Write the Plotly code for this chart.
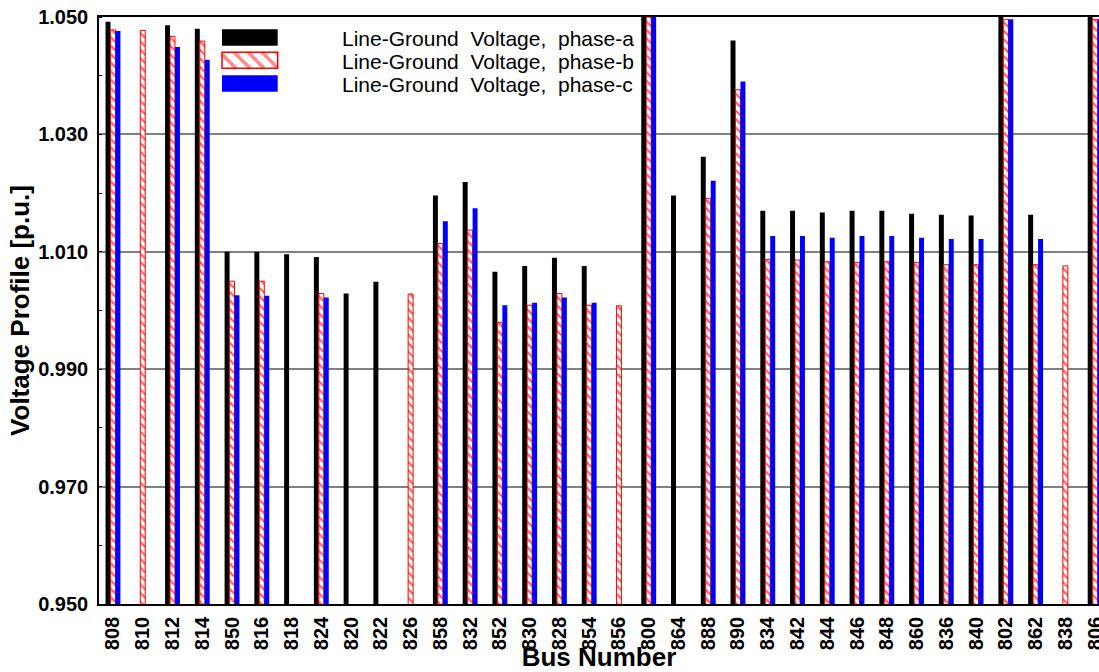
import plotly.graph_objects as go

# ---------------- data ----------------
buses = ["808", "810", "812", "814", "850", "816", "818", "824", "820", "822",
         "826", "858", "832", "852", "830", "828", "854", "856", "800", "864",
         "888", "890", "834", "842", "844", "846", "848", "860", "836", "840",
         "802", "862", "838", "806"]

phase_a = [1.0492, None, 1.0486, 1.0480, 1.0100, 1.0100, 1.0096, 1.0091, 1.0029, 1.0049,
           None, 1.0196, 1.0219, 1.0066, 1.0076, 1.0090, 1.0076, None, 1.0500, 1.0196,
           1.0262, 1.0460, 1.0170, 1.0170, 1.0167, 1.0170, 1.0170, 1.0165, 1.0163, 1.0162,
           1.0500, 1.0163, None, 1.0500]

phase_b = [1.0478, 1.0477, 1.0467, 1.0459, 1.0050, 1.0050, None, 1.0029, None, None,
           1.0028, 1.0114, 1.0137, 0.9980, 1.0009, 1.0029, 1.0009, 1.0008, 1.0500, None,
           1.0191, 1.0376, 1.0087, 1.0086, 1.0083, 1.0082, 1.0083, 1.0082, 1.0078, 1.0078,
           1.0496, 1.0078, 1.0076, 1.0496]

phase_c = [1.0476, None, 1.0449, 1.0427, 1.0026, 1.0025, None, 1.0022, None, None,
           None, 1.0152, 1.0174, 1.0009, 1.0013, 1.0022, 1.0013, None, 1.0500, None,
           1.0221, 1.0390, 1.0127, 1.0127, 1.0124, 1.0127, 1.0127, 1.0124, 1.0122, 1.0122,
           1.0496, 1.0122, None, 1.0496]

series_names = ["Line-Ground  Voltage,  phase-a",
                "Line-Ground  Voltage,  phase-b",
                "Line-Ground  Voltage,  phase-c"]

y_ticks = [0.950, 0.970, 0.990, 1.010, 1.030, 1.050]

FONT = "Arial, Liberation Sans, sans-serif"

fig = go.Figure()

fig.add_trace(go.Bar(
    x=buses, y=phase_a, name=series_names[0],
    marker=dict(color="#000000", line=dict(width=0)),
))
fig.add_trace(go.Bar(
    x=buses, y=phase_b, name=series_names[1],
    marker=dict(color="white", line=dict(color="#ff0000", width=1),
                pattern=dict(shape="\\", fgcolor="#ff5a5a", bgcolor="white",
                             size=6, solidity=0.35, fillmode="replace")),
))
fig.add_trace(go.Bar(
    x=buses, y=phase_c, name=series_names[2],
    marker=dict(color="#0000ff", line=dict(width=0)),
))

# ---------------- custom legend (large swatches) ----------------
shapes = []
# grid lines drawn darker at 1.010 and 0.970 (as in reference)
for v in (1.010, 0.970):
    shapes.append(dict(type="line", xref="paper", yref="y", x0=0, x1=1, y0=v, y1=v,
                       line=dict(color="#000000", width=1), layer="below"))

sw_x0, sw_x1 = 123, 178.7
rows = [(-12.3, -28.7), (-35.3, -51.3), (-58.3, -74.7)]
# black swatch
shapes.append(dict(type="rect", xref="paper", yref="paper", xsizemode="pixel", ysizemode="pixel",
                   xanchor=0, yanchor=1, x0=sw_x0, x1=sw_x1, y0=rows[0][0], y1=rows[0][1],
                   fillcolor="#000000", line=dict(width=0)))
# hatched swatch
yt, yb = rows[1]
h = yt - yb
path = ""
s = sw_x0 - h
while s < sw_x1:
    d0 = max(0.0, sw_x0 - s)
    d1 = min(h, sw_x1 - s)
    if d1 > d0:
        path += f"M{s + d0:.2f},{yt - d0:.2f} L{s + d1:.2f},{yt - d1:.2f} "
    s += 14
shapes.append(dict(type="rect", xref="paper", yref="paper", xsizemode="pixel", ysizemode="pixel",
                   xanchor=0, yanchor=1, x0=sw_x0, x1=sw_x1, y0=yt, y1=yb,
                   fillcolor="white", line=dict(width=0)))
shapes.append(dict(type="path", xref="paper", yref="paper", xsizemode="pixel", ysizemode="pixel",
                   xanchor=0, yanchor=1, path=path.strip(),
                   line=dict(color="#ff8c8c", width=3.5)))
shapes.append(dict(type="rect", xref="paper", yref="paper", xsizemode="pixel", ysizemode="pixel",
                   xanchor=0, yanchor=1, x0=sw_x0, x1=sw_x1, y0=yt, y1=yb,
                   fillcolor="rgba(0,0,0,0)", line=dict(color="#ff0000", width=1.5)))
# blue swatch
shapes.append(dict(type="rect", xref="paper", yref="paper", xsizemode="pixel", ysizemode="pixel",
                   xanchor=0, yanchor=1, x0=sw_x0, x1=sw_x1, y0=rows[2][0], y1=rows[2][1],
                   fillcolor="#0000ff", line=dict(width=0)))

annotations = []
for i, name in enumerate(series_names):
    annotations.append(dict(
        text=name, xref="paper", yref="paper", x=0.241, y=1, xanchor="left",
        yanchor="middle", yshift=-(21 + 23 * i), showarrow=False,
        font=dict(family=FONT, size=21, color="#000000")))

fig.update_layout(
    width=1099, height=672,
    margin=dict(l=99, r=0, t=17, b=68, autoexpand=False),
    paper_bgcolor="white", plot_bgcolor="white",
    barmode="group", bargap=0.5, bargroupgap=0,
    showlegend=False,
    shapes=shapes,
    annotations=annotations,
    font=dict(family=FONT, color="#000000"),
)

fig.update_xaxes(
    type="category", categoryorder="array", categoryarray=buses,
    range=[-0.47, 33.13], automargin=True,
    tickangle=-90,
    tickfont=dict(family=FONT, size=20, color="#000000", weight="bold"),
    ticks="", ticklabelstandoff=3, ticklabeloverflow="allow",
    showline=True, linecolor="#000000", linewidth=1.5, mirror=True,
    showgrid=False, zeroline=False,
    title=dict(text="Bus Number", standoff=9,
               font=dict(family=FONT, size=26, color="#000000", weight="bold")),
)

fig.update_yaxes(
    range=[0.95, 1.05], automargin=False,
    tickvals=y_ticks, tickformat=".3f",
    tickfont=dict(family=FONT, size=20, color="#000000", weight="bold"),
    ticks="", ticklabelstandoff=5, ticklabeloverflow="allow",
    showline=True, linecolor="#000000", linewidth=1.5, mirror=False,
    showgrid=True, gridcolor="#808080", gridwidth=1.5,
    zeroline=False,
    minor=dict(dtick=0.01, tick0=0.95, ticks="inside", ticklen=3,
               tickcolor="#000000", showgrid=False),
    title=dict(text="Voltage Profile [p.u.]", standoff=1,
               font=dict(family=FONT, size=26, color="#000000", weight="bold")),
)

fig.write_html("out.html",
               config={"displayModeBar": False},
               post_script="document.body.style.margin='0';document.body.style.overflow='hidden';")
